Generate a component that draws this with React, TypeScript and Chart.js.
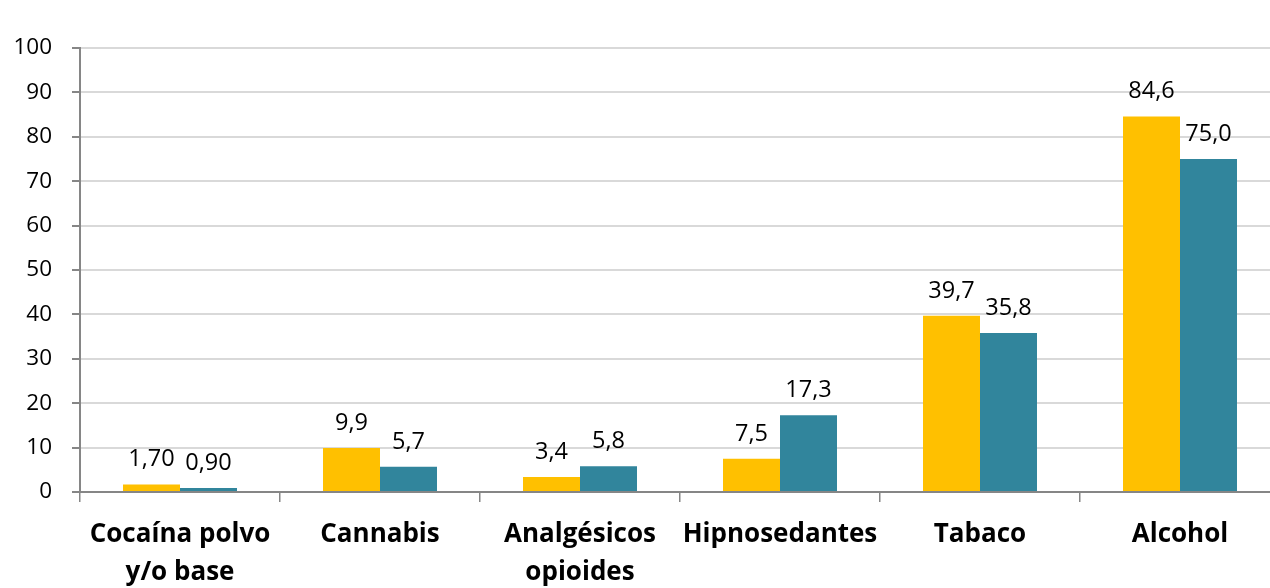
import React, { useEffect, useRef } from "react";
import { Chart, registerables } from "chart.js";

Chart.register(...registerables);

const categories: (string | string[])[] = [
  ["Cocaína polvo", "y/o base"],
  "Cannabis",
  ["Analgésicos", "opioides"],
  "Hipnosedantes",
  "Tabaco",
  "Alcohol",
];
const seriesA = [1.7, 9.9, 3.4, 7.5, 39.7, 84.6];
const seriesB = [0.9, 5.7, 5.8, 17.3, 35.8, 75.0];
const labelsA = ["1,70", "9,9", "3,4", "7,5", "39,7", "84,6"];
const labelsB = ["0,90", "5,7", "5,8", "17,3", "35,8", "75,0"];
const yTicks = [0, 10, 20, 30, 40, 50, 60, 70, 80, 90, 100];

const FONT = "'Open Sans', sans-serif";

const dataLabelPlugin = {
  id: "dataLabels",
  afterDatasetsDraw(chart: any) {
    const ctx = chart.ctx;
    const lbls = [labelsA, labelsB];
    ctx.save();
    ctx.font = `23.5px ${FONT}`;
    ctx.fillStyle = "#000";
    ctx.textAlign = "center";
    ctx.textBaseline = "alphabetic";
    chart.data.datasets.forEach((_: any, di: number) => {
      const meta = chart.getDatasetMeta(di);
      meta.data.forEach((el: any, i: number) => {
        ctx.fillText(lbls[di][i], el.x, el.y - 18);
      });
    });
    ctx.restore();
  },
};

export default function App() {
  const ref = useRef<HTMLCanvasElement>(null);
  useEffect(() => {
    if (!ref.current) return;
    const chart = new Chart(ref.current, {
      type: "bar",
      data: {
        labels: categories,
        datasets: [
          {
            data: seriesA,
            backgroundColor: "#FFC000",
            categoryPercentage: 0.57,
            barPercentage: 1,
          },
          {
            data: seriesB,
            backgroundColor: "#31859C",
            categoryPercentage: 0.57,
            barPercentage: 1,
          },
        ],
      },
      options: {
        responsive: false,
        animation: false,
        devicePixelRatio: 1,
        layout: { padding: { top: 48, right: 0, left: 0, bottom: 0 } },
        plugins: {
          legend: { display: false },
          tooltip: { enabled: false },
          title: { display: false },
        },
        scales: {
          x: {
            afterFit: (s: any) => {
              s.height = 110;
            },
            grid: {
              offset: true,
              drawOnChartArea: false,
              drawTicks: true,
              tickLength: 10,
              color: "#868686",
              lineWidth: 1.5,
            },
            border: { color: "#868686", width: 2 },
            ticks: {
              color: "#000",
              padding: 14,
              maxRotation: 0,
              autoSkip: false,
              font: { family: FONT, size: 26, weight: "bold", lineHeight: 1.45 },
            },
          },
          y: {
            min: 0,
            max: 100,
            afterFit: (s: any) => {
              s.width = 80;
            },
            afterBuildTicks: (s: any) => {
              s.ticks = yTicks.map((v) => ({ value: v }));
            },
            grid: {
              color: "#d9d9d9",
              lineWidth: 2,
              tickLength: 8,
              tickColor: "#868686",
            },
            border: { color: "#868686", width: 2 },
            ticks: {
              color: "#000",
              padding: 20,
              font: { family: FONT, size: 22.5 },
            },
          },
        },
      },
      plugins: [dataLabelPlugin],
    });
    return () => chart.destroy();
  }, []);
  return (
    <div
      style={{
        position: "fixed",
        left: 0,
        top: 0,
        width: 1270,
        height: 588,
        overflow: "hidden",
        background: "#fff",
      }}
    >
      <canvas ref={ref} width={1280} height={602} style={{ width: 1280, height: 602, display: "block" }} />
    </div>
  );
}
